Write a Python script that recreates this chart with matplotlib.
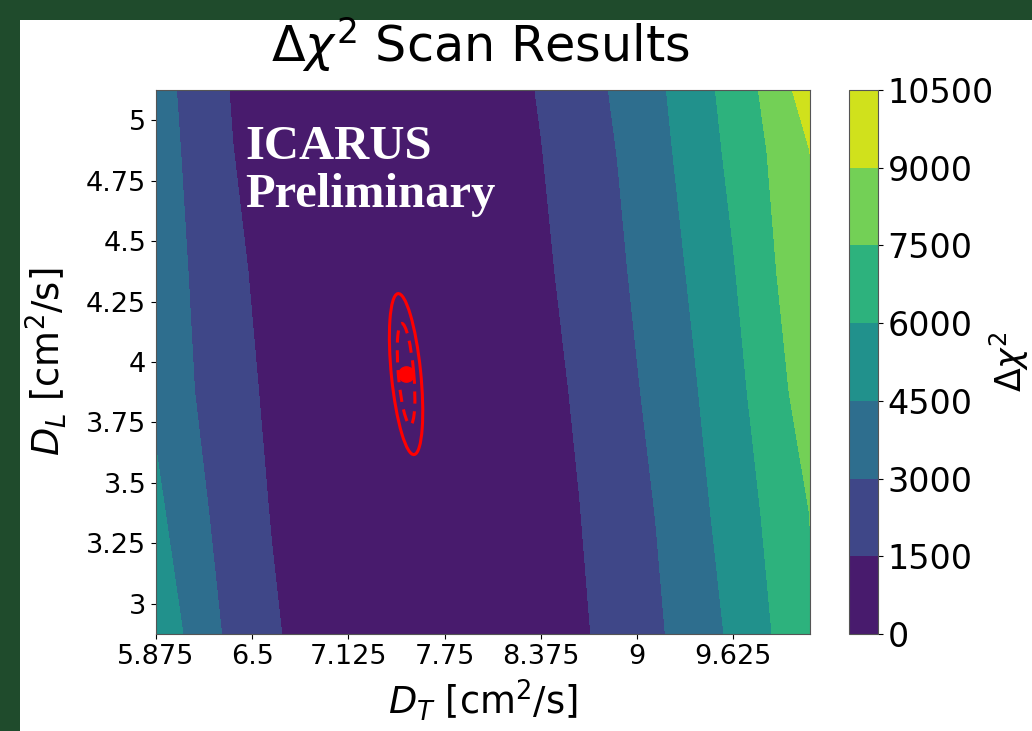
import numpy as np
import matplotlib
matplotlib.use("Agg")
import matplotlib.pyplot as plt
from matplotlib.patches import Ellipse, Rectangle

# grid of the scan
dt_vals = [5.875, 6.125, 6.375, 6.625, 6.875, 7.125, 7.375, 7.625, 7.875,
           8.125, 8.375, 8.625, 8.875, 9.125, 9.375, 9.625, 9.875, 10.125]
dl_vals = [2.875, 3.375, 3.875, 4.375, 4.875, 5.125]

# delta chi2 rows, one per dl value (estimated from the colour bands)
chi2_dl_2875 = [5780, 3957, 2601, 1701, 949, 425, 108, 0, 78,
                317, 718, 1280, 2014, 2780, 3706, 4748, 5985, 7323]
chi2_dl_3375 = [4857, 3390, 2343, 1440, 767, 304, 52, 7, 134,
                419, 862, 1464, 2241, 3028, 4039, 5146, 6333, 7520]
chi2_dl_3875 = [4191, 3005, 2076, 1215, 608, 209, 18, 27, 197,
                526, 1013, 1679, 2477, 3354, 4385, 5509, 6845, 8278]
chi2_dl_4375 = [3995, 2799, 1815, 1009, 463, 127, 1, 66, 292,
                681, 1232, 1968, 2752, 3697, 4745, 5903, 7326, 8650]
chi2_dl_4875 = [3750, 2576, 1513, 824, 343, 70, 3, 116, 397,
                845, 1461, 2239, 3028, 4031, 5133, 6354, 7661, 9010]
chi2_dl_5125 = [3625, 2450, 1394, 737, 287, 45, 10, 152, 463,
                943, 1600, 2378, 3199, 4194, 5334, 6566, 7988, 9860]

levels = [0, 1500, 3000, 4500, 6000, 7500, 9000, 10500]

# best fit point and the two red contours (major, minor, angle)
best_dt, best_dl = 7.50, 3.95
outer_ell = (0.674, 0.19, 99.3)
inner_ell = (0.423, 0.10, 97.9)

xticks = [5.875, 6.5, 7.125, 7.75, 8.375, 9, 9.625]
yticks = [3, 3.25, 3.5, 3.75, 4, 4.25, 4.5, 4.75, 5]

chi2 = np.array([chi2_dl_2875, chi2_dl_3375, chi2_dl_3875,
                 chi2_dl_4375, chi2_dl_4875, chi2_dl_5125])

W, H = 1032, 731
fig = plt.figure(figsize=(W / 100, H / 100), dpi=100, facecolor="#1f4b2c")
fig.add_artist(Rectangle((20 / W, 0), 1, 1 - 20 / H, transform=fig.transFigure,
                         facecolor="white", edgecolor="none", zorder=-5))

ax = fig.add_axes([156 / W, 1 - 634 / H, 654 / W, 544 / H])
cax = fig.add_axes([849 / W, 1 - 634 / H, 29 / W, 544 / H])

cs = ax.contourf(dt_vals, dl_vals, chi2, levels=levels, cmap="viridis")

ax.add_patch(Ellipse((best_dt, best_dl), outer_ell[0], outer_ell[1], angle=outer_ell[2],
                     fill=False, edgecolor="red", lw=2.2))
ax.add_patch(Ellipse((best_dt, best_dl), inner_ell[0], inner_ell[1], angle=inner_ell[2],
                     fill=False, edgecolor="red", lw=2.2, linestyle=(0, (4, 2.5))))
ax.plot(best_dt, best_dl, "o", color="red", ms=11)

ax.set_xticks(xticks)
ax.set_xticklabels([f"{v:g}" for v in xticks])
ax.set_yticks(yticks)
ax.set_yticklabels([f"{v:g}" for v in yticks])
ax.tick_params(labelsize=19.5, length=3.5, width=0.8)
ax.set_xlabel(r"$D_T$ [cm$^2$/s]", fontsize=26.5, labelpad=6)
ax.set_ylabel(r"$D_L$ [cm$^2$/s]", fontsize=26.5, labelpad=12)
for s in ax.spines.values():
    s.set_color("#555555")

ax.text(0.136, 0.935, "ICARUS\nPreliminary", transform=ax.transAxes, color="white",
        fontsize=35, fontweight="bold", family="Liberation Serif", va="top", ha="left",
        linespacing=1.1)

cb = fig.colorbar(cs, cax=cax)
cb.ax.tick_params(labelsize=24, length=3.5)
cb.set_label(r"$\Delta\chi^2$", fontsize=25, rotation=90, va="center")
cb.ax.yaxis.set_label_coords((1009 - 849) / 29, 0.5)
cb.outline.set_edgecolor("#555555")

fig.text(481 / W, 1 - 62 / H, r"$\Delta\chi^2$ Scan Results", fontsize=35.5,
         ha="center", va="baseline")

fig.savefig("out.png", dpi=100, facecolor=fig.get_facecolor())
